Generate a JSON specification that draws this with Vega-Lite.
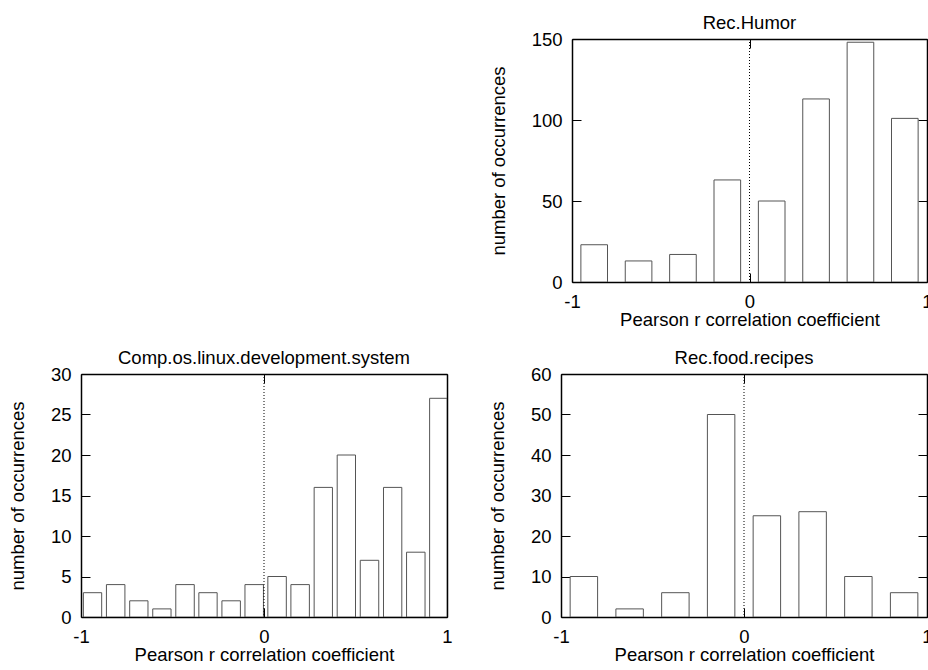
{
  "$schema": "https://vega.github.io/schema/vega-lite/v6.json",
  "padding": {"left": 8, "top": 13, "right": 0, "bottom": 0},
  "background": "white",
  "config": {
    "font": "Liberation Sans",
    "view": {"stroke": null},
    "axis": {
      "grid": false,
      "labelFont": "Liberation Sans",
      "labelFontSize": 18.5,
      "labelColor": "black",
      "labelFlush": false,
      "labelPadding": 19,
      "labelOverlap": false,
      "labelExpr": "datum.value + ''",
      "titleFont": "Liberation Sans",
      "titleFontSize": 18.5,
      "titleFontWeight": "normal",
      "titleColor": "black",
      "tickSize": -9,
      "tickColor": "black",
      "tickWidth": 1,
      "domainColor": "black",
      "domainWidth": 1.5
    },
    "axisX": {"titlePadding": 0},
    "axisY": {"titlePadding": 23},
    "title": {"font": "Liberation Sans", "fontSize": 18.5, "fontWeight": "normal", "color": "black", "baseline": "alphabetic", "offset": -2}
  },
  "datasets": {
    "humor": [
      {"lo": -0.95, "hi": -0.80, "count": 23},
      {"lo": -0.70, "hi": -0.55, "count": 13},
      {"lo": -0.45, "hi": -0.30, "count": 17},
      {"lo": -0.20, "hi": -0.05, "count": 63},
      {"lo": 0.05, "hi": 0.20, "count": 50},
      {"lo": 0.30, "hi": 0.45, "count": 113},
      {"lo": 0.55, "hi": 0.70, "count": 148},
      {"lo": 0.80, "hi": 0.95, "count": 101}
    ],
    "linux": [
      {"lo": -0.987, "hi": -0.887, "count": 3},
      {"lo": -0.861, "hi": -0.760, "count": 4},
      {"lo": -0.734, "hi": -0.634, "count": 2},
      {"lo": -0.608, "hi": -0.508, "count": 1},
      {"lo": -0.482, "hi": -0.381, "count": 4},
      {"lo": -0.356, "hi": -0.256, "count": 3},
      {"lo": -0.230, "hi": -0.129, "count": 2},
      {"lo": -0.104, "hi": -0.003, "count": 4},
      {"lo": 0.021, "hi": 0.122, "count": 5},
      {"lo": 0.147, "hi": 0.248, "count": 4},
      {"lo": 0.274, "hi": 0.374, "count": 16},
      {"lo": 0.400, "hi": 0.500, "count": 20},
      {"lo": 0.526, "hi": 0.627, "count": 7},
      {"lo": 0.653, "hi": 0.753, "count": 16},
      {"lo": 0.779, "hi": 0.880, "count": 8},
      {"lo": 0.905, "hi": 1.0, "count": 27}
    ],
    "recipes": [
      {"lo": -0.95, "hi": -0.80, "count": 10},
      {"lo": -0.70, "hi": -0.55, "count": 2},
      {"lo": -0.45, "hi": -0.30, "count": 6},
      {"lo": -0.20, "hi": -0.05, "count": 50},
      {"lo": 0.05, "hi": 0.20, "count": 25},
      {"lo": 0.30, "hi": 0.45, "count": 26},
      {"lo": 0.55, "hi": 0.70, "count": 10},
      {"lo": 0.80, "hi": 0.95, "count": 6}
    ]
  },
  "columns": 2,
  "align": "none",
  "bounds": "flush",
  "spacing": {"row": 92, "column": 114},
  "concat": [
    {"width": 366, "height": 243, "data": {"values": []}, "mark": "point"},
    {
      "title": {"text": "Rec.Humor", "dx": 5.5},
      "width": 366, "height": 243,
      "data": {"name": "humor"},
      "resolve": {"scale": {"x": "independent", "y": "independent"}},
      "layer": [
        {
          "mark": {"type": "bar", "fill": "white", "stroke": "#555", "strokeWidth": 1, "clip": true},
          "encoding": {
            "x": {"field": "lo", "type": "quantitative", "scale": {"domain": [-1, 1], "range": [11, 366], "nice": false, "zero": false}, "axis": {"orient": "bottom", "values": [-1, 0, 1], "title": "Pearson r correlation coefficient"}},
            "x2": {"field": "hi"},
            "y": {"field": "count", "type": "quantitative", "scale": {"domain": [0, 150], "nice": false}, "axis": {"orient": "left", "offset": -11, "values": [0, 50, 100, 150], "title": "number of occurrences"}},
            "y2": {"datum": 0}
          }
        },
        {
          "data": {"values": [{}]},
          "mark": {"type": "rule", "color": "black", "strokeDash": [1, 2], "strokeWidth": 1},
          "encoding": {"x": {"datum": 0, "type": "quantitative", "scale": {"domain": [-1, 1], "range": [11, 366], "nice": false, "zero": false}, "axis": null}}
        },
        {
          "mark": {"type": "point", "opacity": 0},
          "encoding": {
            "x": {"field": "lo", "type": "quantitative", "scale": {"domain": [-1, 1], "range": [11, 366], "nice": false, "zero": false}, "axis": {"orient": "top", "values": [-1, 0, 1], "labels": false, "title": null}},
            "y": {"field": "count", "type": "quantitative", "scale": {"domain": [0, 150], "nice": false}, "axis": {"orient": "right", "values": [0, 50, 100, 150], "labels": false, "title": null}}
          }
        }
      ]
    },
    {
      "title": "Comp.os.linux.development.system",
      "width": 366, "height": 243,
      "data": {"name": "linux"},
      "resolve": {"scale": {"x": "independent", "y": "independent"}},
      "layer": [
        {
          "mark": {"type": "bar", "fill": "white", "stroke": "#555", "strokeWidth": 1, "clip": true},
          "encoding": {
            "x": {"field": "lo", "type": "quantitative", "scale": {"domain": [-1, 1], "nice": false, "zero": false}, "axis": {"orient": "bottom", "values": [-1, 0, 1], "title": "Pearson r correlation coefficient"}},
            "x2": {"field": "hi"},
            "y": {"field": "count", "type": "quantitative", "scale": {"domain": [0, 30], "nice": false}, "axis": {"orient": "left", "values": [0, 5, 10, 15, 20, 25, 30], "title": "number of occurrences"}},
            "y2": {"datum": 0}
          }
        },
        {
          "data": {"values": [{}]},
          "mark": {"type": "rule", "color": "black", "strokeDash": [1, 2], "strokeWidth": 1},
          "encoding": {"x": {"datum": 0, "type": "quantitative", "scale": {"domain": [-1, 1], "nice": false, "zero": false}, "axis": null}}
        },
        {
          "mark": {"type": "point", "opacity": 0},
          "encoding": {
            "x": {"field": "lo", "type": "quantitative", "scale": {"domain": [-1, 1], "nice": false, "zero": false}, "axis": {"orient": "top", "values": [-1, 0, 1], "labels": false, "title": null}},
            "y": {"field": "count", "type": "quantitative", "scale": {"domain": [0, 30], "nice": false}, "axis": {"orient": "right", "values": [0, 5, 10, 15, 20, 25, 30], "labels": false, "title": null}}
          }
        }
      ]
    },
    {
      "title": "Rec.food.recipes",
      "width": 366, "height": 243,
      "data": {"name": "recipes"},
      "resolve": {"scale": {"x": "independent", "y": "independent"}},
      "layer": [
        {
          "mark": {"type": "bar", "fill": "white", "stroke": "#555", "strokeWidth": 1, "clip": true},
          "encoding": {
            "x": {"field": "lo", "type": "quantitative", "scale": {"domain": [-1, 1], "nice": false, "zero": false}, "axis": {"orient": "bottom", "values": [-1, 0, 1], "title": "Pearson r correlation coefficient"}},
            "x2": {"field": "hi"},
            "y": {"field": "count", "type": "quantitative", "scale": {"domain": [0, 60], "nice": false}, "axis": {"orient": "left", "values": [0, 10, 20, 30, 40, 50, 60], "title": "number of occurrences"}},
            "y2": {"datum": 0}
          }
        },
        {
          "data": {"values": [{}]},
          "mark": {"type": "rule", "color": "black", "strokeDash": [1, 2], "strokeWidth": 1},
          "encoding": {"x": {"datum": 0, "type": "quantitative", "scale": {"domain": [-1, 1], "nice": false, "zero": false}, "axis": null}}
        },
        {
          "mark": {"type": "point", "opacity": 0},
          "encoding": {
            "x": {"field": "lo", "type": "quantitative", "scale": {"domain": [-1, 1], "nice": false, "zero": false}, "axis": {"orient": "top", "values": [-1, 0, 1], "labels": false, "title": null}},
            "y": {"field": "count", "type": "quantitative", "scale": {"domain": [0, 60], "nice": false}, "axis": {"orient": "right", "values": [0, 10, 20, 30, 40, 50, 60], "labels": false, "title": null}}
          }
        }
      ]
    }
  ]
}
